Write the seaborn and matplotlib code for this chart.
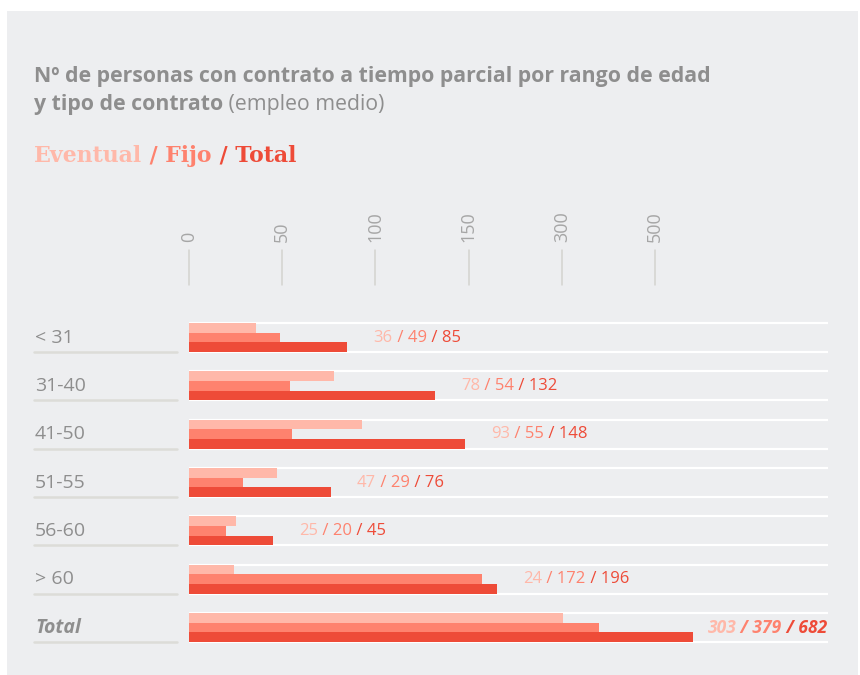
import numpy as np
import pandas as pd
import seaborn as sns
import matplotlib.pyplot as plt
from matplotlib.transforms import blended_transform_factory
from matplotlib.patches import Rectangle
from matplotlib.lines import Line2D

# --- data ---
rangos = ['< 31', '31-40', '41-50', '51-55', '56-60', '> 60', 'Total']
eventual = [36, 78, 93, 47, 25, 24, 303]
fijo = [49, 54, 55, 29, 20, 172, 379]
total = [85, 132, 148, 76, 45, 196, 682]
tipos = ['Eventual', 'Fijo', 'Total']
tick_vals = [0, 50, 100, 150, 300, 500]

c_ev, c_fi, c_to = '#ffb8a9', '#fe826e', '#ee4b38'
grey_txt = '#8e8e8e'
bg = '#edeef0'

df = pd.DataFrame({'rango': rangos, 'Eventual': eventual, 'Fijo': fijo, 'Total': total})
long = df.melt(id_vars='rango', var_name='tipo', value_name='valor')

sns.set_theme(style="white")
plt.rcParams['font.family'] = ['Open Sans', 'DejaVu Sans']

fig = plt.figure(figsize=(8.6, 6.75), dpi=100)
fig.patch.set_facecolor('white')
fig.patches.append(Rectangle((7 / 860, 0), 851 / 860, 1 - 11 / 675,
                             transform=fig.transFigure, facecolor=bg,
                             edgecolor='none', zorder=-5))

ax = fig.add_axes([189 / 860, 0.0345, 639 / 860, 0.5013])
ax.set_facecolor('none')

sns.barplot(data=long, x='valor', y='rango', hue='tipo', hue_order=tipos,
            orient='h', palette=[c_ev, c_fi, c_to], width=0.6, saturation=1,
            errorbar=None, linewidth=0, legend=False, ax=ax, zorder=3)

# piecewise axis like the original (0,50,100,150,300,500 evenly spaced)
kv = [0, 50, 100, 150, 300, 500, 700, 3000]
ku = [0, 1, 2, 3, 4, 5, 5.45, 10.625]


def fwd(v):
    return np.interp(v, kv, ku)


def inv(u):
    return np.interp(u, ku, kv)


ax.set_xscale('function', functions=(fwd, inv))
ax.set_xlim(0, 1325)
ax.set_ylim(6.5, -0.5)
ax.tick_params(length=0, labelbottom=False, labelleft=False)
ax.set_xlabel('')
ax.set_ylabel('')
sns.despine(ax=ax, left=True, bottom=True)

# white row lines
for i in range(len(rangos)):
    ax.hlines([i - 0.3, i + 0.3], 0, 1325, color='white', lw=1.6, zorder=1)

# axis ticks on top
xa = ax.get_xaxis_transform()
for v in tick_vals:
    ax.plot([v, v], [1.0837, 1.187], color='#d3d3cf', lw=1.1,
            transform=xa, clip_on=False)
    ax.text(v, 1.212, str(v), rotation=90, ha='center', va='bottom',
            fontsize=13, color='#a6a6a6', transform=xa)

# category labels with underline
tr = blended_transform_factory(fig.transFigure, ax.transData)
for i, r in enumerate(rangos):
    is_tot = r == 'Total'
    ax.text(35 / 860, i, r, transform=tr, ha='left', va='center',
            fontsize=14, color=grey_txt,
            fontweight='bold' if is_tot else 'normal',
            style='italic' if is_tot else 'normal')
    ax.add_line(Line2D([34 / 860, 177 / 860], [i + 0.3, i + 0.3], transform=tr,
                       color='#dcdcd8', lw=1.8, clip_on=False))

# value labels "eventual / fijo / total"
for i, r in enumerate(rangos):
    parts = [(str(eventual[i]), c_ev), (' / ' + str(fijo[i]), c_fi),
             (' / ' + str(total[i]), c_to)]
    if r == 'Total':
        kw = dict(fontsize=12.5, fontweight='bold', style='italic', va='center')
        prev = ax.text(827 / 860, i, parts[2][0], transform=tr, ha='right',
                       color=parts[2][1], **kw)
        for txt, col in parts[1::-1]:
            prev = ax.annotate(txt, xy=(0, 0.5), xycoords=prev, ha='right',
                               color=col, **kw)
    else:
        kw = dict(fontsize=12, va='center')
        prev = ax.annotate(parts[0][0], xy=(total[i], i), xytext=(18.7, 0),
                           textcoords='offset points', ha='left',
                           color=parts[0][1], **kw)
        for txt, col in parts[1:]:
            prev = ax.annotate(txt, xy=(1, 0.5), xycoords=prev, ha='left',
                               color=col, **kw)

# titles
fig.text(34 / 860, 1 - 82 / 675,
         'Nº de personas con contrato a tiempo parcial por rango de edad',
         fontsize=15.3, fontweight='bold', color=grey_txt, va='baseline')
t2 = fig.text(34 / 860, 1 - 110 / 675, 'y tipo de contrato',
              fontsize=15.3, fontweight='bold', color=grey_txt, va='baseline')
ax.annotate(' (empleo medio)', xy=(1, 0), xycoords=t2, fontsize=15.3,
            color=grey_txt, va='bottom', ha='left', annotation_clip=False)

serif = ['DejaVu Serif']
s_kw = dict(fontsize=15.8, fontweight='bold', family=serif)
s1 = fig.text(34 / 860, 1 - 162 / 675, 'Eventual', color=c_ev, va='baseline', **s_kw)
s2 = ax.annotate(' / Fijo', xy=(1, 0), xycoords=s1, color=c_fi, va='bottom',
                 ha='left', annotation_clip=False, **s_kw)
ax.annotate(' / Total', xy=(1, 0), xycoords=s2, color=c_to, va='bottom',
            ha='left', annotation_clip=False, **s_kw)

fig.savefig('out.png', dpi=100, facecolor='white')
